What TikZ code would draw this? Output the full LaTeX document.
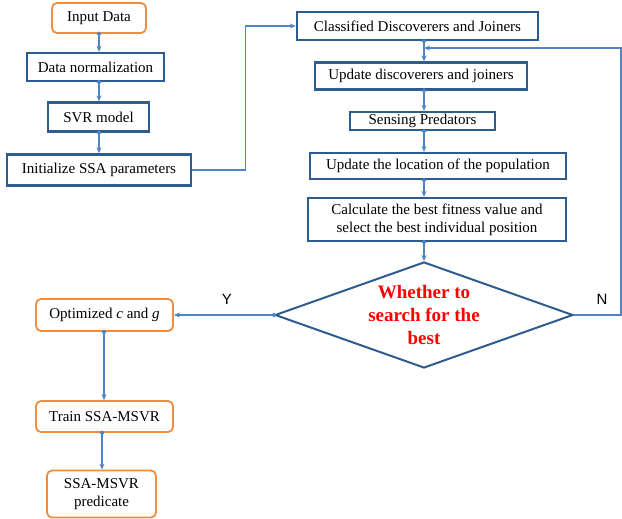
\documentclass[tikz,border=0pt]{standalone}
\usepackage{fontspec}
\setmainfont{Liberation Serif}
\newfontfamily\ynfont{Liberation Sans}
\usepackage{tikz}
\usetikzlibrary{arrows.meta, positioning, shapes.geometric, calc}
\usepackage{xcolor}
\definecolor{boxnavy}{HTML}{2F5C8F}
\definecolor{boxorange}{HTML}{F08C3E}
\definecolor{linkblue}{HTML}{4F85C6}
\definecolor{textred}{HTML}{FF0000}

\begin{document}
\begin{tikzpicture}[
    x=1pt, y=-1pt,
    box/.style={
      draw=boxnavy, line width=2.3pt, inner sep=0pt,
      font=\fontsize{15}{18}\selectfont, align=center
    },
    obox/.style={box, draw=boxorange, line width=1.8pt, rounded corners=5pt},
    dia/.style={draw=boxnavy, line width=2pt, diamond, inner sep=0pt},
    link/.style={draw=linkblue, line width=1.3pt, shorten <=-2.2pt,
      {Circle[length=4.5pt]}-{Stealth[length=6pt, width=5pt]}},
    back/.style={draw=linkblue, line width=1.3pt, -{Stealth[length=6pt, width=5pt]}},
    yn/.style={font=\ynfont\fontsize{15}{18}\selectfont},
  ]
    \useasboundingbox (0,0) rectangle (622,519);

    % --- Data preparation ---
    \node[obox, minimum width=94pt,  minimum height=30pt] (input) at (99,18)    {Input Data};
    \node[box,  minimum width=137pt, minimum height=28pt] (norm)  at (95.5,67)  {Data normalization};
    \node[box,  minimum width=101pt, minimum height=29pt] (svr)   at (98.5,117) {SVR model};
    \node[box,  minimum width=184pt, minimum height=31pt] (init)  at (99,170)   {Initialize SSA parameters};

    % --- SSA loop ---
    \node[box, minimum width=241pt, minimum height=28pt] (cls)   at (417.5,26)  {Classified Discoverers and Joiners};
    \node[box, minimum width=212pt, minimum height=27pt] (upd)   at (421,76)    {Update discoverers and joiners};
    \node[box, minimum width=145pt, minimum height=18pt] (sense) at (422.5,121) {Sensing Predators};
    \node[box, minimum width=256pt, minimum height=26pt] (loc)   at (438,166)   {Update the location of the population};
    \node[box, minimum width=258pt, minimum height=43pt] (calc)  at (437,219.5) {Calculate the best fitness value and\\select the best individual position};

    % --- Decision ---
    \node[dia, minimum width=298pt, minimum height=106pt] (best) at (424,315) {};
    \node[font=\bfseries\fontsize{19}{23}\selectfont, text=textred, align=center]
      (besttext) at (best.center) {Whether to\\search for the\\best};
    \node[yn] (yes) at (227,299) {Y};
    \node[yn] (no)  at (602,299) {N};

    % --- Output ---
    \node[obox, minimum width=137pt, minimum height=32pt] (opt)   at (104.5,315)   {Optimized \textit{c} and \textit{g}};
    \node[obox, minimum width=137pt, minimum height=31pt] (train) at (104.5,416.5) {Train SSA-MSVR};
    \node[obox, minimum width=109pt, minimum height=47pt] (pred)  at (101.5,494)   {SSA-MSVR\\predicate};

    % --- Arrows ---
    \draw[link] (input.south) -- (norm.north -| input.south);
    \draw[link] (norm.south -| input.south) -- (svr.north -| input.south);
    \draw[link] (svr.south -| input.south) -- (init.north -| input.south);
    \draw[back] (init.east) -- ++(53,0) |- (cls.west);
    \draw[link] (cls.south -| best.north)   -- (upd.north -| best.north);
    \draw[link] (upd.south -| best.north)   -- (sense.north -| best.north);
    \draw[link] (sense.south -| best.north) -- (loc.north -| best.north);
    \draw[link] (loc.south -| best.north)   -- (calc.north -| best.north);
    \draw[link] (calc.south -| best.north)  -- (best.north);
    \draw[link] (best.west) -- (opt.east);
    \coordinate (loop) at (621,48);
    \draw[back] (best.east) -| (loop) -- (loop -| best.north);
    \draw[link] (opt.south -| 104,0)   -- (train.north -| 104,0);
    \draw[link] (train.south -| 102,0) -- (pred.north -| 102,0);
  \end{tikzpicture}
\end{document}
